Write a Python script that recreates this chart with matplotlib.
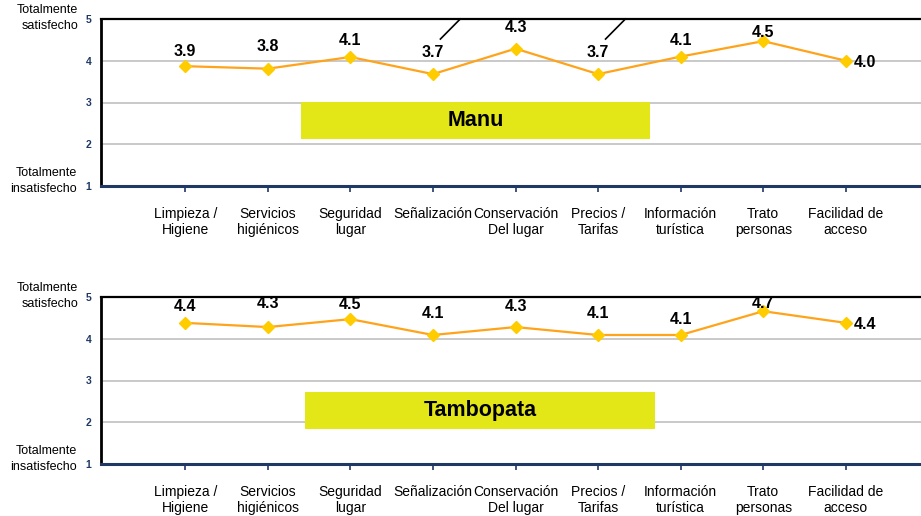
import matplotlib
matplotlib.use("Agg")
import matplotlib.pyplot as plt
from matplotlib.patches import Rectangle

plt.rcParams['font.family'] = ['Liberation Sans', 'DejaVu Sans']

categories = ["Limpieza /\nHigiene", "Servicios\nhigiénicos", "Seguridad\nlugar",
              "Señalización", "Conservación\nDel lugar", "Precios /\nTarifas",
              "Información\nturística", "Trato\npersonas", "Facilidad de\nacceso"]
manu = [3.87, 3.81, 4.09, 3.68, 4.29, 3.68, 4.10, 4.47, 4.00]
tambopata = [4.38, 4.28, 4.47, 4.09, 4.28, 4.09, 4.09, 4.66, 4.38]
yticks = [1, 2, 3, 4, 5]
titles = ["Manu", "Tambopata"]

# layout (pixel offsets for value labels)
manu_dy = [15, 22, 16, 22, 21, 22, 16, 9, 0]
tamb_dy = [16, 24, 15, 21, 21, 21, 15, 8, 0]

LINE = "#FFA31A"
MARK = "#FFCC00"
NAVY = "#1F3864"
YEL = "#E3E617"

W, H = 921, 516
fig = plt.figure(figsize=(W / 100, H / 100), dpi=100)

def make_axes(top_px, bottom_px):
    left = 101 / W
    return fig.add_axes([left, 1 - bottom_px / H, 1 - left, (bottom_px - top_px) / H])

axes = [make_axes(19, 186), make_axes(297, 464)]
datasets = [manu, tambopata]
offsets = [manu_dy, tamb_dy]
boxes = [(0.244, 0.281, 0.426, 0.222), (0.249, 0.21, 0.426, 0.221)]

for k, ax in enumerate(axes):
    vals = datasets[k]
    x = list(range(len(categories)))
    ax.set_xlim(-1.02, 8.91)
    ax.set_ylim(1, 5)
    ax.set_yticks(yticks)
    ax.set_yticklabels([str(v) for v in yticks], fontsize=7.5, fontweight='bold', color=NAVY)
    ax.yaxis.grid(True, color="#C0C0C0", linewidth=1.2)
    ax.set_axisbelow(True)
    ax.tick_params(axis='y', length=0, pad=7)
    ax.set_xticks(x)
    ax.set_xticklabels(categories, fontsize=10, va='top', linespacing=1.2)
    ax.tick_params(axis='x', length=4, width=1.2, color=NAVY, pad=11, direction='out')
    ax.spines['right'].set_visible(False)
    ax.spines['top'].set_color('black')
    ax.spines['top'].set_linewidth(1.6)
    ax.spines['left'].set_color('black')
    ax.spines['left'].set_linewidth(2)
    ax.spines['bottom'].set_color(NAVY)
    ax.spines['bottom'].set_linewidth(2.2)

    bx, by, bw, bh = boxes[k]
    ax.add_patch(Rectangle((bx, by), bw, bh, transform=ax.transAxes,
                           facecolor=YEL, edgecolor='none', zorder=2))
    ax.text(bx + bw / 2, by + bh / 2, titles[k], transform=ax.transAxes,
            ha='center', va='center', fontsize=15.5, fontweight='bold', zorder=3)

    ax.plot(x, vals, color=LINE, linewidth=1.6, marker='D', markersize=6.5,
            markerfacecolor=MARK, markeredgecolor=MARK, zorder=4, clip_on=False)

    for i, v in enumerate(vals):
        if i == len(vals) - 1:
            ax.annotate(f"{v:.1f}", (i, v), xytext=(8, -2), textcoords='offset pixels',
                        ha='left', va='center', fontsize=11.5, fontweight='bold', zorder=5)
        else:
            ax.annotate(f"{v:.1f}", (i, v), xytext=(0, offsets[k][i]),
                        textcoords='offset pixels', ha='center', va='center',
                        fontsize=11.5, fontweight='bold', zorder=5)

    ax.text(-0.028, 1.006, "Totalmente\nsatisfecho", transform=ax.transAxes,
            ha='right', va='center', fontsize=9, linespacing=1.45)
    ax.text(-0.029, 0.03, "Totalmente\ninsatisfecho", transform=ax.transAxes,
            ha='right', va='center', fontsize=9, linespacing=1.45)

# stray leader lines in the upper panel
ax = axes[0]
for i in (3, 5):
    ax.plot([i + 0.09, i + 0.33], [4.52, 5.0], color='black', linewidth=1.2,
            clip_on=False, zorder=5)

fig.savefig("out.png", dpi=100)
